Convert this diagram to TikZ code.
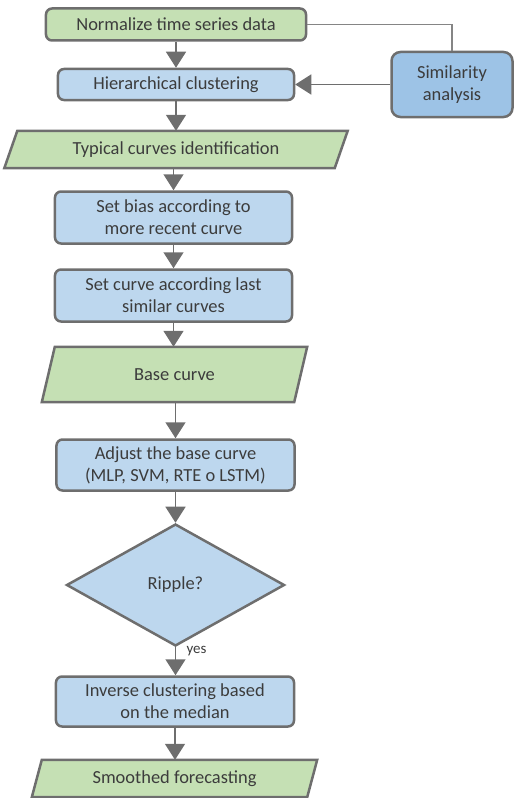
\documentclass[tikz,border=0pt]{standalone}
\usepackage{fontspec}
\setmainfont{Carlito}
\usetikzlibrary{arrows.meta,shapes.geometric,backgrounds}
\definecolor{boxgreen}{HTML}{C5E0B4}
\definecolor{boxblue}{HTML}{BDD7EE}
\definecolor{simblue}{HTML}{9DC3E6}
\definecolor{edge}{HTML}{6E6E6E}
\definecolor{wire}{HTML}{858585}
\definecolor{txt}{HTML}{3C3C3C}
% parallelogram outline drawn behind a rectangular node
\newcommand{\ioshape}[2]{%
  \begin{scope}[on background layer]
    \draw[edge, line width=2.5bp, fill=boxgreen, line join=miter]
      ([xshift=#2]#1.north west) -- (#1.north east)
      -- ([xshift=-#2]#1.south east) -- (#1.south west) -- cycle;
  \end{scope}}
\begin{document}
\begin{tikzpicture}[x=1bp,y=-1bp,
  font=\fontsize{18.5}{22}\selectfont,
  proc/.style={draw=edge, line width=2.5bp, rounded corners=6bp, fill=boxblue,
    text=txt, align=center, inner sep=0pt},
  startbox/.style={proc, fill=boxgreen},
  simbox/.style={proc, fill=simblue, rounded corners=9bp},
  iobox/.style={rectangle, text=txt, align=center, inner sep=0pt},
  decision/.style={diamond, draw=edge, line width=2.5bp, fill=boxblue, text=txt,
    inner sep=0pt, minimum width=218bp, minimum height=122bp},
  flow/.style={draw=edge, line width=1.5bp,
    -{Triangle[width=20bp,length=16bp]}},
  link/.style={draw=wire, line width=1.2bp}]
\useasboundingbox (0,0) rectangle (515,798);

\node[startbox, minimum width=260bp, minimum height=32bp] (norm) at (176,24.5)
  {Normalize time series data};
\node[proc, minimum width=236bp, minimum height=31bp] (hier) at (176,84.5)
  {Hierarchical clustering};
\node[simbox, minimum width=121bp, minimum height=65bp] (sim) at (452,84.5)
  {Similarity\\analysis};
\node[iobox, minimum width=343bp, minimum height=37bp] (typ) at (176,149.5)
  {Typical curves identification};
\ioshape{typ}{13bp}
\node[proc, minimum width=237bp, minimum height=52bp] (bias) at (173.5,217.5)
  {Set bias according to\\more recent curve};
\node[proc, minimum width=237bp, minimum height=52bp] (scur) at (173.5,295.5)
  {Set curve according last\\similar curves};
\node[iobox, minimum width=265bp, minimum height=55bp] (base) at (174.5,374.5)
  {Base curve};
\ioshape{base}{13bp}
\node[proc, minimum width=238bp, minimum height=51bp] (adj) at (175.5,465)
  {Adjust the base curve\\(MLP, SVM, RTE o LSTM)};
\node[decision] (rip) at (175.5,585) {Ripple?};
\node[proc, minimum width=238bp, minimum height=50bp] (inv) at (175,701.5)
  {Inverse clustering based\\on the median};
\node[iobox, minimum width=285bp, minimum height=37bp] (smo) at (174.5,778.5)
  {Smoothed forecasting};
\ioshape{smo}{10bp}
\node[text=txt, font=\fontsize{15}{17}\selectfont, anchor=west] (yes) at (183,651) {yes};

\draw[flow] (norm.south -| hier.north) -- (hier.north);
\draw[flow] (hier.south) -- (typ.north -| hier.south);
\draw[flow] (typ.south -| bias.north) -- (bias.north);
\draw[flow] (bias) -- (scur);
\draw[flow] (scur.south) -- (base.north -| scur.south);
\draw[flow] (base.south -| adj.north) -- (adj.north);
\draw[flow] (adj) -- (rip);
\draw[flow] (rip.south) -- (inv.north -| rip.south);
\draw[flow] (inv.south) -- (smo.north -| inv.south);
\draw[link] (norm.east) -| (sim.north);
\draw[flow] (sim.west) -- (hier.east);
\end{tikzpicture}
\end{document}
